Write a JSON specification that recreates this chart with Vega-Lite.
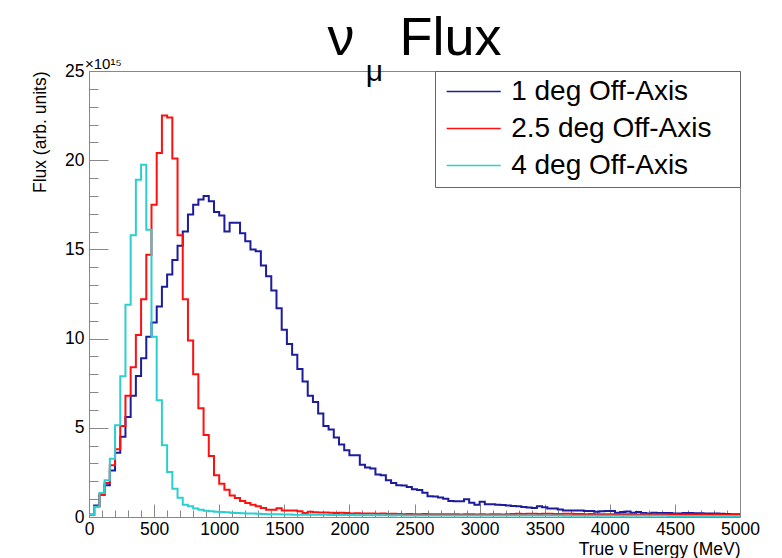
{
  "$schema": "https://vega.github.io/schema/vega-lite/v6.json",
  "width": 651,
  "height": 446,
  "autosize": {"type": "none"},
  "padding": {"left": 89, "top": 71, "right": 42, "bottom": 41},
  "background": "white",
  "config": {
    "view": {"stroke": "#888", "strokeWidth": 1},
    "font": "Liberation Sans"
  },
  "title": {
    "text": "ν\u00a0\u00a0\u00a0Flux",
    "subtitle": "μ\u00a0\u00a0\u00a0\u00a0\u00a0\u00a0\u00a0\u2800",
    "font": "Liberation Sans",
    "subtitleFont": "Liberation Sans",
    "fontSize": 54,
    "subtitleFontSize": 30,
    "fontWeight": "normal",
    "color": "black",
    "subtitleColor": "black",
    "anchor": "middle",
    "frame": "group",
    "offset": -30,
    "subtitlePadding": -9
  },
  "data": {
    "values": [
      {"E": 0, "deg1": 0.13, "deg2_5": 0.13, "deg4": 0.13},
      {"E": 40, "deg1": 0.65, "deg2_5": 0.6, "deg4": 0.56},
      {"E": 80, "deg1": 1.25, "deg2_5": 1.25, "deg4": 1.35},
      {"E": 120, "deg1": 1.78, "deg2_5": 1.9, "deg4": 2.06},
      {"E": 160, "deg1": 2.6, "deg2_5": 2.9, "deg4": 3.27},
      {"E": 200, "deg1": 3.6, "deg2_5": 3.8, "deg4": 5.14},
      {"E": 240, "deg1": 4.5, "deg2_5": 5.1, "deg4": 7.89},
      {"E": 280, "deg1": 5.6, "deg2_5": 6.8, "deg4": 11.9},
      {"E": 320, "deg1": 6.8, "deg2_5": 8.4, "deg4": 15.8},
      {"E": 360, "deg1": 7.9, "deg2_5": 10.2, "deg4": 18.9},
      {"E": 400, "deg1": 8.9, "deg2_5": 12.2, "deg4": 19.75},
      {"E": 440, "deg1": 10.1, "deg2_5": 14.7, "deg4": 16.1},
      {"E": 480, "deg1": 10.9, "deg2_5": 17.5, "deg4": 10.1},
      {"E": 520, "deg1": 11.8, "deg2_5": 20.4, "deg4": 6.54},
      {"E": 560, "deg1": 12.9, "deg2_5": 22.5, "deg4": 4.02},
      {"E": 600, "deg1": 13.6, "deg2_5": 22.4, "deg4": 2.52},
      {"E": 640, "deg1": 14.4, "deg2_5": 20.1, "deg4": 1.59},
      {"E": 680, "deg1": 15.2, "deg2_5": 15.8, "deg4": 1.08},
      {"E": 720, "deg1": 16.0, "deg2_5": 12.2, "deg4": 0.69},
      {"E": 760, "deg1": 16.95, "deg2_5": 9.9, "deg4": 0.6},
      {"E": 800, "deg1": 17.5, "deg2_5": 8.0, "deg4": 0.47},
      {"E": 840, "deg1": 17.8, "deg2_5": 6.1, "deg4": 0.41},
      {"E": 880, "deg1": 18.0, "deg2_5": 4.6, "deg4": 0.35},
      {"E": 920, "deg1": 17.7, "deg2_5": 3.42, "deg4": 0.32},
      {"E": 960, "deg1": 17.1, "deg2_5": 2.34, "deg4": 0.3},
      {"E": 1000, "deg1": 16.9, "deg2_5": 1.87, "deg4": 0.28},
      {"E": 1040, "deg1": 16.0, "deg2_5": 1.53, "deg4": 0.26},
      {"E": 1080, "deg1": 16.5, "deg2_5": 1.21, "deg4": 0.24},
      {"E": 1120, "deg1": 16.5, "deg2_5": 1.07, "deg4": 0.22},
      {"E": 1160, "deg1": 15.9, "deg2_5": 0.9, "deg4": 0.21},
      {"E": 1200, "deg1": 15.46, "deg2_5": 0.79, "deg4": 0.2},
      {"E": 1240, "deg1": 15.0, "deg2_5": 0.69, "deg4": 0.19},
      {"E": 1280, "deg1": 14.9, "deg2_5": 0.6, "deg4": 0.18},
      {"E": 1320, "deg1": 14.1, "deg2_5": 0.5, "deg4": 0.17},
      {"E": 1360, "deg1": 13.5, "deg2_5": 0.41, "deg4": 0.16},
      {"E": 1400, "deg1": 12.7, "deg2_5": 0.41, "deg4": 0.15},
      {"E": 1440, "deg1": 11.7, "deg2_5": 0.49, "deg4": 0.15},
      {"E": 1480, "deg1": 10.5, "deg2_5": 0.37, "deg4": 0.14},
      {"E": 1520, "deg1": 9.7, "deg2_5": 0.36, "deg4": 0.14},
      {"E": 1560, "deg1": 9.1, "deg2_5": 0.36, "deg4": 0.13},
      {"E": 1600, "deg1": 8.3, "deg2_5": 0.32, "deg4": 0.13},
      {"E": 1640, "deg1": 7.6, "deg2_5": 0.22, "deg4": 0.13},
      {"E": 1680, "deg1": 6.8, "deg2_5": 0.3, "deg4": 0.12},
      {"E": 1720, "deg1": 6.45, "deg2_5": 0.26, "deg4": 0.12},
      {"E": 1760, "deg1": 5.8, "deg2_5": 0.25, "deg4": 0.12},
      {"E": 1800, "deg1": 5.1, "deg2_5": 0.25, "deg4": 0.12},
      {"E": 1840, "deg1": 4.9, "deg2_5": 0.24, "deg4": 0.11},
      {"E": 1880, "deg1": 4.45, "deg2_5": 0.22, "deg4": 0.11},
      {"E": 1920, "deg1": 4.07, "deg2_5": 0.24, "deg4": 0.11},
      {"E": 1960, "deg1": 3.74, "deg2_5": 0.22, "deg4": 0.11},
      {"E": 2000, "deg1": 3.46, "deg2_5": 0.2, "deg4": 0.11},
      {"E": 2040, "deg1": 3.46, "deg2_5": 0.21, "deg4": 0.1},
      {"E": 2080, "deg1": 2.93, "deg2_5": 0.19, "deg4": 0.1},
      {"E": 2120, "deg1": 2.77, "deg2_5": 0.2, "deg4": 0.1},
      {"E": 2160, "deg1": 2.72, "deg2_5": 0.19, "deg4": 0.1},
      {"E": 2200, "deg1": 2.38, "deg2_5": 0.18, "deg4": 0.1},
      {"E": 2240, "deg1": 2.34, "deg2_5": 0.19, "deg4": 0.1},
      {"E": 2280, "deg1": 2.06, "deg2_5": 0.17, "deg4": 0.1},
      {"E": 2320, "deg1": 1.9, "deg2_5": 0.18, "deg4": 0.09},
      {"E": 2360, "deg1": 1.78, "deg2_5": 0.17, "deg4": 0.1},
      {"E": 2400, "deg1": 1.77, "deg2_5": 0.16, "deg4": 0.09},
      {"E": 2440, "deg1": 1.68, "deg2_5": 0.17, "deg4": 0.09},
      {"E": 2480, "deg1": 1.55, "deg2_5": 0.16, "deg4": 0.09},
      {"E": 2520, "deg1": 1.52, "deg2_5": 0.16, "deg4": 0.09},
      {"E": 2560, "deg1": 1.36, "deg2_5": 0.17, "deg4": 0.09},
      {"E": 2600, "deg1": 1.17, "deg2_5": 0.15, "deg4": 0.09},
      {"E": 2640, "deg1": 1.15, "deg2_5": 0.16, "deg4": 0.09},
      {"E": 2680, "deg1": 1.1, "deg2_5": 0.15, "deg4": 0.09},
      {"E": 2720, "deg1": 1.03, "deg2_5": 0.16, "deg4": 0.09},
      {"E": 2760, "deg1": 0.9, "deg2_5": 0.15, "deg4": 0.09},
      {"E": 2800, "deg1": 0.88, "deg2_5": 0.15, "deg4": 0.09},
      {"E": 2840, "deg1": 0.88, "deg2_5": 0.14, "deg4": 0.08},
      {"E": 2880, "deg1": 0.99, "deg2_5": 0.15, "deg4": 0.08},
      {"E": 2920, "deg1": 0.8, "deg2_5": 0.15, "deg4": 0.08},
      {"E": 2960, "deg1": 0.69, "deg2_5": 0.14, "deg4": 0.08},
      {"E": 3000, "deg1": 0.85, "deg2_5": 0.15, "deg4": 0.08},
      {"E": 3040, "deg1": 0.71, "deg2_5": 0.14, "deg4": 0.08},
      {"E": 3080, "deg1": 0.71, "deg2_5": 0.15, "deg4": 0.08},
      {"E": 3120, "deg1": 0.69, "deg2_5": 0.16, "deg4": 0.08},
      {"E": 3160, "deg1": 0.67, "deg2_5": 0.14, "deg4": 0.08},
      {"E": 3200, "deg1": 0.65, "deg2_5": 0.15, "deg4": 0.08},
      {"E": 3240, "deg1": 0.62, "deg2_5": 0.17, "deg4": 0.08},
      {"E": 3280, "deg1": 0.6, "deg2_5": 0.18, "deg4": 0.08},
      {"E": 3320, "deg1": 0.56, "deg2_5": 0.17, "deg4": 0.08},
      {"E": 3360, "deg1": 0.53, "deg2_5": 0.18, "deg4": 0.08},
      {"E": 3400, "deg1": 0.5, "deg2_5": 0.18, "deg4": 0.08},
      {"E": 3440, "deg1": 0.6, "deg2_5": 0.17, "deg4": 0.08},
      {"E": 3480, "deg1": 0.55, "deg2_5": 0.18, "deg4": 0.08},
      {"E": 3520, "deg1": 0.47, "deg2_5": 0.18, "deg4": 0.08},
      {"E": 3560, "deg1": 0.47, "deg2_5": 0.17, "deg4": 0.08},
      {"E": 3600, "deg1": 0.42, "deg2_5": 0.17, "deg4": 0.08},
      {"E": 3640, "deg1": 0.37, "deg2_5": 0.18, "deg4": 0.07},
      {"E": 3680, "deg1": 0.36, "deg2_5": 0.18, "deg4": 0.07},
      {"E": 3720, "deg1": 0.36, "deg2_5": 0.17, "deg4": 0.07},
      {"E": 3760, "deg1": 0.36, "deg2_5": 0.17, "deg4": 0.07},
      {"E": 3800, "deg1": 0.33, "deg2_5": 0.16, "deg4": 0.07},
      {"E": 3840, "deg1": 0.33, "deg2_5": 0.17, "deg4": 0.07},
      {"E": 3880, "deg1": 0.3, "deg2_5": 0.16, "deg4": 0.07},
      {"E": 3920, "deg1": 0.32, "deg2_5": 0.16, "deg4": 0.07},
      {"E": 3960, "deg1": 0.33, "deg2_5": 0.15, "deg4": 0.07},
      {"E": 4000, "deg1": 0.33, "deg2_5": 0.15, "deg4": 0.07},
      {"E": 4040, "deg1": 0.24, "deg2_5": 0.16, "deg4": 0.07},
      {"E": 4080, "deg1": 0.28, "deg2_5": 0.15, "deg4": 0.07},
      {"E": 4120, "deg1": 0.31, "deg2_5": 0.15, "deg4": 0.07},
      {"E": 4160, "deg1": 0.24, "deg2_5": 0.15, "deg4": 0.07},
      {"E": 4200, "deg1": 0.28, "deg2_5": 0.14, "deg4": 0.07},
      {"E": 4240, "deg1": 0.22, "deg2_5": 0.15, "deg4": 0.07},
      {"E": 4280, "deg1": 0.19, "deg2_5": 0.14, "deg4": 0.07},
      {"E": 4320, "deg1": 0.24, "deg2_5": 0.14, "deg4": 0.07},
      {"E": 4360, "deg1": 0.22, "deg2_5": 0.15, "deg4": 0.07},
      {"E": 4400, "deg1": 0.22, "deg2_5": 0.14, "deg4": 0.07},
      {"E": 4440, "deg1": 0.22, "deg2_5": 0.14, "deg4": 0.06},
      {"E": 4480, "deg1": 0.19, "deg2_5": 0.14, "deg4": 0.06},
      {"E": 4520, "deg1": 0.19, "deg2_5": 0.13, "deg4": 0.06},
      {"E": 4560, "deg1": 0.22, "deg2_5": 0.14, "deg4": 0.06},
      {"E": 4600, "deg1": 0.22, "deg2_5": 0.14, "deg4": 0.06},
      {"E": 4640, "deg1": 0.21, "deg2_5": 0.13, "deg4": 0.06},
      {"E": 4680, "deg1": 0.21, "deg2_5": 0.14, "deg4": 0.06},
      {"E": 4720, "deg1": 0.2, "deg2_5": 0.13, "deg4": 0.06},
      {"E": 4760, "deg1": 0.19, "deg2_5": 0.13, "deg4": 0.06},
      {"E": 4800, "deg1": 0.19, "deg2_5": 0.14, "deg4": 0.06},
      {"E": 4840, "deg1": 0.18, "deg2_5": 0.13, "deg4": 0.06},
      {"E": 4880, "deg1": 0.17, "deg2_5": 0.13, "deg4": 0.06},
      {"E": 4920, "deg1": 0.15, "deg2_5": 0.12, "deg4": 0.06},
      {"E": 4960, "deg1": 0.15, "deg2_5": 0.13, "deg4": 0.06},
      {"E": 5000, "deg1": 0.15, "deg2_5": 0.13, "deg4": 0.06}
    ]
  },
  "transform": [
    {"fold": ["deg1", "deg2_5", "deg4"], "as": ["series", "flux"]}
  ],
  "layer": [
    {
      "mark": {"type": "point", "opacity": 0},
      "encoding": {
        "x": {
          "field": "E", "type": "quantitative",
          "scale": {"domain": [0, 5000], "nice": false, "zero": true},
          "axis": {
            "orient": "bottom",
            "values": [0,100,200,300,400,500,600,700,800,900,1000,1100,1200,1300,1400,1500,1600,1700,1800,1900,2000,2100,2200,2300,2400,2500,2600,2700,2800,2900,3000,3100,3200,3300,3400,3500,3600,3700,3800,3900,4000,4100,4200,4300,4400,4500,4600,4700,4800,4900,5000],
            "tickSize": -7, "tickColor": "#888", "tickWidth": 1,
            "labels": false, "domain": false, "grid": false, "title": null
          }
        },
        "y": {
          "field": "flux", "type": "quantitative",
          "scale": {"domain": [0, 25], "nice": false},
          "axis": {
            "orient": "left",
            "values": [0,1,2,3,4,5,6,7,8,9,10,11,12,13,14,15,16,17,18,19,20,21,22,23,24,25],
            "tickSize": -9, "tickColor": "#888", "tickWidth": 1,
            "labels": false, "domain": false, "grid": false, "title": null
          }
        }
      }
    },
    {
      "mark": {"type": "line", "interpolate": "step-after", "strokeWidth": 2},
      "encoding": {
        "x": {
          "field": "E", "type": "quantitative",
          "axis": {
            "orient": "bottom",
            "values": [0,500,1000,1500,2000,2500,3000,3500,4000,4500,5000],
            "format": "d",
            "tickSize": -13, "tickColor": "#888", "tickWidth": 1,
            "domain": false, "grid": false,
            "labelFont": "Liberation Sans", "labelFontSize": 17.5, "labelColor": "black",
            "labelPadding": 16, "labelFlush": false,
            "title": "True ν Energy (MeV)",
            "titleFont": "Liberation Sans", "titleFontSize": 17.5, "titleFontWeight": "normal", "titleColor": "black",
            "titleAnchor": "end", "titleAlign": "right", "titleBaseline": "middle",
            "titleX": 651, "titleY": 32
          }
        },
        "y": {
          "field": "flux", "type": "quantitative",
          "axis": {
            "orient": "left",
            "values": [0,5,10,15,20,25],
            "tickSize": -19, "tickColor": "#888", "tickWidth": 1,
            "domain": false, "grid": false,
            "labelFont": "Liberation Sans", "labelFontSize": 17.5, "labelColor": "black",
            "labelPadding": 24, "labelFlush": false,
            "title": "Flux (arb. units)",
            "titleFont": "Liberation Sans", "titleFontSize": 17.5, "titleFontWeight": "normal", "titleColor": "black",
            "titleAngle": -90, "titleAlign": "right", "titleBaseline": "middle",
            "titleX": -49, "titleY": 0
          }
        },
        "color": {
          "field": "series", "type": "nominal",
          "scale": {"domain": ["deg1", "deg2_5", "deg4"], "range": ["#1c1c9c", "#ff1010", "#2ccfcf"]},
          "legend": {
            "title": null,
            "orient": "top-right",
            "offset": 0,
            "fillColor": "white",
            "strokeColor": "#666",
            "padding": 6.6,
            "symbolType": "M-1.66,0H8.34",
            "symbolSize": 117,
            "symbolStrokeWidth": 1.5,
            "symbolFillColor": "transparent",
            "labelFont": "Liberation Sans",
            "labelFontSize": 28,
            "labelColor": "black",
            "labelOffset": 41.6,
            "labelLimit": 400,
            "rowPadding": 9,
            "labelExpr": "(datum.label == 'deg1' ? '1 deg Off-Axis' : datum.label == 'deg2_5' ? '2.5 deg Off-Axis' : '4 deg Off-Axis') + '\u2800'"
          }
        }
      }
    },
    {
      "data": {"values": [{"label": "×10¹⁵"}]},
      "mark": {"type": "text", "align": "left", "baseline": "alphabetic", "dx": -4, "dy": -2, "fontSize": 15, "font": "Liberation Sans", "color": "black"},
      "encoding": {
        "x": {"datum": 0, "type": "quantitative", "axis": null},
        "y": {"datum": 25, "type": "quantitative", "axis": null},
        "text": {"field": "label", "type": "nominal"}
      }
    }
  ],
  "resolve": {"axis": {"x": "independent", "y": "independent"}}
}
